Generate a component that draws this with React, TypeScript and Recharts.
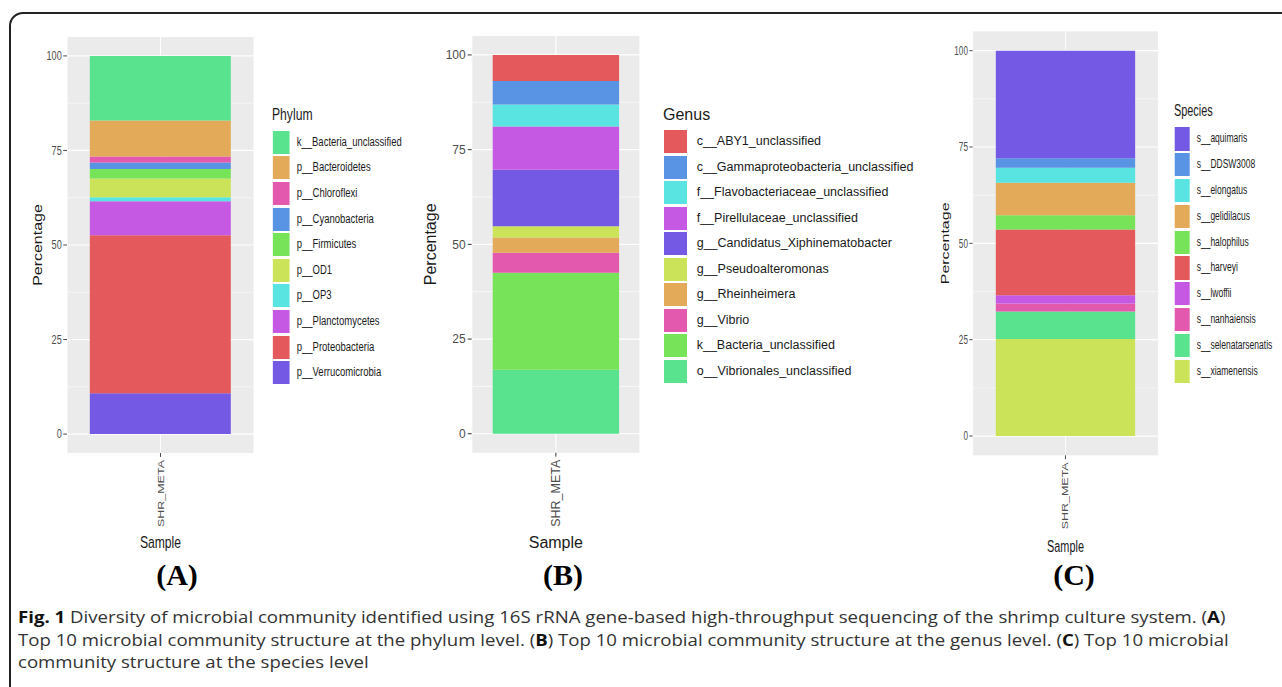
import { BarChart, Bar, XAxis, YAxis, CartesianGrid } from 'recharts'

const sample = 'SHR_META'
const yTicks = [0, 25, 50, 75, 100]
const minorTicks = [12.5, 37.5, 62.5, 87.5]

// ten hues, same saturation / lightness
const red = 'hsl(359, 71%, 62%)'
const orange = 'hsl(35, 71%, 62%)'
const lime = 'hsl(71, 71%, 62%)'
const green = 'hsl(107, 71%, 62%)'
const mint = 'hsl(143, 71%, 62%)'
const cyan = 'hsl(179, 71%, 62%)'
const blue = 'hsl(215, 71%, 62%)'
const indigo = 'hsl(251, 71%, 62%)'
const purple = 'hsl(287, 71%, 62%)'
const pink = 'hsl(323, 71%, 62%)'

const phylumNames = ['k__Bacteria_unclassified', 'p__Bacteroidetes', 'p__Chloroflexi', 'p__Cyanobacteria', 'p__Firmicutes', 'p__OD1', 'p__OP3', 'p__Planctomycetes', 'p__Proteobacteria', 'p__Verrucomicrobia']
const phylumValues = [17.1, 9.5, 1.6, 1.7, 2.5, 5.0, 1.0, 9.0, 41.8, 10.8]
const phylumColors = [mint, orange, pink, blue, green, lime, cyan, purple, red, indigo]

const genusNames = ['c__ABY1_unclassified', 'c__Gammaproteobacteria_unclassified', 'f__Flavobacteriaceae_unclassified', 'f__Pirellulaceae_unclassified', 'g__Candidatus_Xiphinematobacter', 'g__Pseudoalteromonas', 'g__Rheinheimera', 'g__Vibrio', 'k__Bacteria_unclassified', 'o__Vibrionales_unclassified']
const genusValues = [6.9, 6.2, 5.8, 11.4, 14.9, 3.0, 4.0, 5.3, 25.6, 16.9]
const genusColors = [red, blue, cyan, purple, indigo, lime, orange, pink, green, mint]

const speciesNames = ['s__aquimaris', 's__DDSW3008', 's__elongatus', 's__gelidilacus', 's__halophilus', 's__harveyi', 's__lwoffii', 's__nanhaiensis', 's__selenatarsenatis', 's__xiamenensis']
const speciesValues = [27.9, 2.5, 3.9, 8.4, 3.7, 17.1, 2.1, 2.1, 7.1, 25.2]
const speciesColors = [indigo, blue, cyan, orange, green, red, purple, pink, mint, lime]

const font = "'Liberation Sans', Arial, Helvetica, sans-serif"
const H = 560

interface Cfg {
  left: number
  sx: number
  plotTop: number
  plotBottom: number
  plotLeft: number
  plotRight: number
  barSize: number
  tick: number
  yLabelX: number
  sampleY: number
  titleX: number
  titleY: number
  keyX: number
  keyW: number
  keyH: number
  keyTop: number
  step: number
  textX: number
}

const cfgA: Cfg = { left: 0, sx: 0.76, plotTop: 37, plotBottom: 453, plotLeft: 88.2, plotRight: 334.2, barSize: 185.5, tick: 5, yLabelX: 49.3, sampleY: 542, titleX: 357.9, titleY: 107, keyX: 359.2, keyW: 22, keyH: 23, keyTop: 130.7, step: 25.6, textX: 390.4 }
const cfgB: Cfg = { left: 400, sx: 1, plotTop: 36, plotBottom: 452.7, plotLeft: 71.7, plotRight: 240, barSize: 126.4, tick: 4, yLabelX: 30, sampleY: 542, titleX: 263, titleY: 107, keyX: 264, keyW: 23, keyH: 23, keyTop: 130, step: 25.5, textX: 296.7 }
const cfgC: Cfg = { left: 900, sx: 0.68, plotTop: 31.4, plotBottom: 455.3, plotLeft: 106.9, plotRight: 379.9, barSize: 204.9, tick: 5, yLabelX: 66.2, sampleY: 546.7, titleX: 402.9, titleY: 103, keyX: 404.4, keyW: 22, keyH: 23.3, keyTop: 127.3, step: 25.8, textX: 436.3 }

// eslint-disable-next-line @typescript-eslint/no-explicit-any
const SampleTick = ({ x, y, payload }: any) => (
  <g>
    <line x1={x} y1={y} x2={x} y2={y + 4} stroke="#333" strokeWidth={1} />
    <text x={x} y={y + 7} dy="0.35em" transform={`rotate(-90 ${x} ${y + 7})`} textAnchor="end" fontSize={12.5} fill="#4D4D4D">
      {payload.value}
    </text>
  </g>
)

interface PanelProps {
  cfg: Cfg
  title: string
  names: string[]
  values: number[]
  colors: string[]
}

function Panel({ cfg, title, names, values, colors }: PanelProps) {
  const row: { [key: string]: string | number } = { sample }
  names.forEach((n, i) => { row[n] = values[i] })
  const midY = (cfg.plotTop + cfg.plotBottom) / 2
  const midX = (cfg.plotLeft + cfg.plotRight) / 2
  return (
    <div style={{ position: 'absolute', left: cfg.left, top: 0, width: 600, height: 600, transform: `scaleX(${cfg.sx})`, transformOrigin: '0 0', fontFamily: font }}>
      <BarChart width={cfg.plotRight} height={H} data={[row]} margin={{ top: cfg.plotTop, right: 0, bottom: 0, left: 0 }} barCategoryGap={0}>
        <CartesianGrid fill="#EBEBEB" stroke="#fff" strokeWidth={0.6} horizontalValues={minorTicks} vertical={false} />
        <CartesianGrid stroke="#fff" strokeWidth={1.2} horizontalValues={yTicks} />
        <XAxis
          dataKey="sample"
          height={H - cfg.plotBottom}
          axisLine={false}
          tickLine={false}
          tickSize={0}
          tickMargin={0}
          interval={0}
          tick={<SampleTick />}
          label={{ content: () => <text x={midX} y={cfg.sampleY + 5.7} textAnchor="middle" fontSize={16} fill="#1a1a1a">Sample</text> }}
        />
        <YAxis
          type="number"
          domain={[-5, 105]}
          ticks={yTicks}
          allowDataOverflow
          width={cfg.plotLeft}
          axisLine={false}
          tickSize={cfg.tick}
          tickMargin={2}
          tickLine={{ stroke: '#333' }}
          tick={{ fontSize: 12, fill: '#4D4D4D' }}
          label={{ content: () => <text x={cfg.yLabelX} y={midY + 5.7} transform={`rotate(-90 ${cfg.yLabelX} ${midY})`} textAnchor="middle" fontSize={16} fill="#1a1a1a">Percentage</text> }}
        />
        {names.map((_, k) => {
          const i = names.length - 1 - k
          return <Bar key={names[i]} dataKey={names[i]} stackId="s" fill={colors[i]} barSize={cfg.barSize} isAnimationActive={false} />
        })}
      </BarChart>
      <div style={{ position: 'absolute', left: cfg.titleX, top: cfg.titleY, fontSize: 16, lineHeight: '16px', color: '#1a1a1a', whiteSpace: 'nowrap' }}>{title}</div>
      {names.map((n, i) => (
        <div key={n}>
          <div style={{ position: 'absolute', left: cfg.keyX, top: cfg.keyTop + i * cfg.step, width: cfg.keyW, height: cfg.keyH, background: colors[i] }} />
          <div style={{ position: 'absolute', left: cfg.textX, top: cfg.keyTop + i * cfg.step, height: cfg.keyH, lineHeight: `${cfg.keyH}px`, fontSize: 12.5, color: '#1a1a1a', whiteSpace: 'nowrap' }}>{n}</div>
        </div>
      ))}
    </div>
  )
}

const panelLabel = (text: string, cx: number) => (
  <div style={{ position: 'absolute', left: cx - 50, top: 560, width: 100, textAlign: 'center', fontFamily: "'Liberation Serif', 'Times New Roman', serif", fontWeight: 'bold', fontSize: 30, lineHeight: '30px', color: '#000' }}>{text}</div>
)

export default function App() {
  return (
    <div style={{ position: 'absolute', left: 0, top: 0, width: 1282, height: 687, overflow: 'hidden', background: '#fff' }}>
      <div style={{ position: 'absolute', left: 9, top: 12, width: 1300, height: 720, border: '2px solid #222', borderRadius: 14, boxSizing: 'border-box' }} />
      <Panel cfg={cfgA} title="Phylum" names={phylumNames} values={phylumValues} colors={phylumColors} />
      <Panel cfg={cfgB} title="Genus" names={genusNames} values={genusValues} colors={genusColors} />
      <Panel cfg={cfgC} title="Species" names={speciesNames} values={speciesValues} colors={speciesColors} />
      {panelLabel('(A)', 177)}
      {panelLabel('(B)', 563)}
      {panelLabel('(C)', 1074)}
      <div style={{ position: 'absolute', left: 18, top: 606.4, fontFamily: "'Open Sans', sans-serif", fontSize: 16.4, lineHeight: '22.5px', color: '#333', whiteSpace: 'nowrap', transform: 'scaleX(1.136)', transformOrigin: '0 0' }}>
        <b style={{ color: '#111' }}>Fig. 1</b> Diversity of microbial community identified using 16S rRNA gene-based high-throughput sequencing of the shrimp culture system. (<b style={{ color: '#111' }}>A</b>)
        <br />
        Top 10 microbial community structure at the phylum level. (<b style={{ color: '#111' }}>B</b>) Top 10 microbial community structure at the genus level. (<b style={{ color: '#111' }}>C</b>) Top 10 microbial
        <br />
        community structure at the species level
      </div>
    </div>
  )
}
